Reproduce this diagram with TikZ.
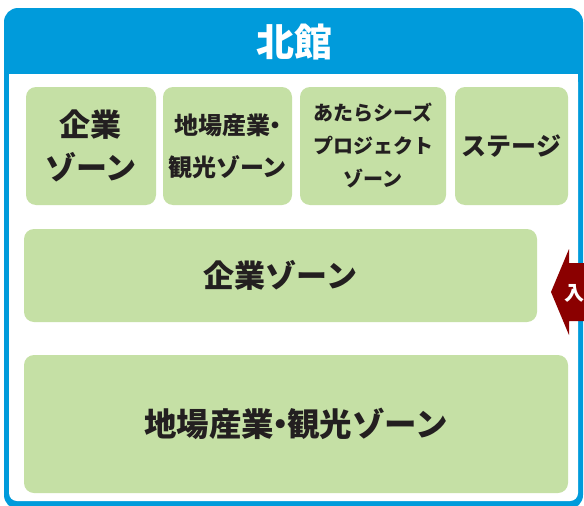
\documentclass[tikz,border=0pt]{standalone}
\usepackage{fontspec}
\newfontfamily\jp{Noto Sans CJK JP}
\usetikzlibrary{positioning}
\definecolor{hallblue}{RGB}{0,155,219}
\definecolor{zonegreen}{RGB}{197,224,165}
\definecolor{gatered}{RGB}{139,0,0}
\definecolor{zonetext}{RGB}{35,31,32}
\tikzstyle{zone} = [rectangle, rounded corners=10pt, fill=zonegreen, text=zonetext, align=center, inner sep=0pt]
\tikzstyle{bigzone} = [zone, font=\jp\bfseries\fontsize{31}{43}\selectfont]
\newcommand{\nakaguro}{\kern-0.3em・\kern-0.3em}

\begin{document}
\begin{tikzpicture}[x=1pt, y=-1pt]
\useasboundingbox (0,0) rectangle (584,506);
% hall frame
\fill [hallblue, rounded corners=14pt] (4,8) rectangle (583,509);
\fill [white, rounded corners=8pt] (9,74) rectangle (578,501);
\fill [white] (9,74) rectangle (578,90);
\node (title) [text=white, font=\jp\bfseries\fontsize{38}{40}\selectfont] at (294,42) {北館};
% upper row
\node (kigyo1) [bigzone, minimum width=130pt, minimum height=118pt] at (91,146) {企業\\ゾーン};
\node (jiba1) [zone, minimum width=129pt, minimum height=118pt, font=\jp\bfseries\fontsize{24}{42}\selectfont] at (227.5,146) {地場産業\nakaguro\\観光ゾーン};
\node (seeds) [zone, minimum width=146pt, minimum height=118pt, font=\jp\bfseries\fontsize{20}{33}\selectfont] at (373,146) {あたらシーズ\\プロジェクト\\ゾーン};
\node (stage) [zone, minimum width=113pt, minimum height=118pt, font=\jp\bfseries\fontsize{25}{30}\selectfont] at (511.5,146) {ステージ};
% lower rows
\node (kigyo2) [bigzone, minimum width=513pt, minimum height=93pt] at (280.5,275.5) {企業ゾーン};
\node (jiba2) [bigzone, minimum width=544pt, minimum height=138pt, font=\jp\bfseries\fontsize{32.5}{40}\selectfont] at (296,424) {地場産業\nakaguro 観光ゾーン};
% entrance
\fill [gatered] (551,292) -- (569,249) -- (569,263) -- (590,263) -- (590,321) -- (569,321) -- (569,335) -- cycle;
\node (entrance) [text=white, font=\jp\bfseries\fontsize{20}{22}\selectfont] at (574,293) {入};
\end{tikzpicture}
\end{document}
